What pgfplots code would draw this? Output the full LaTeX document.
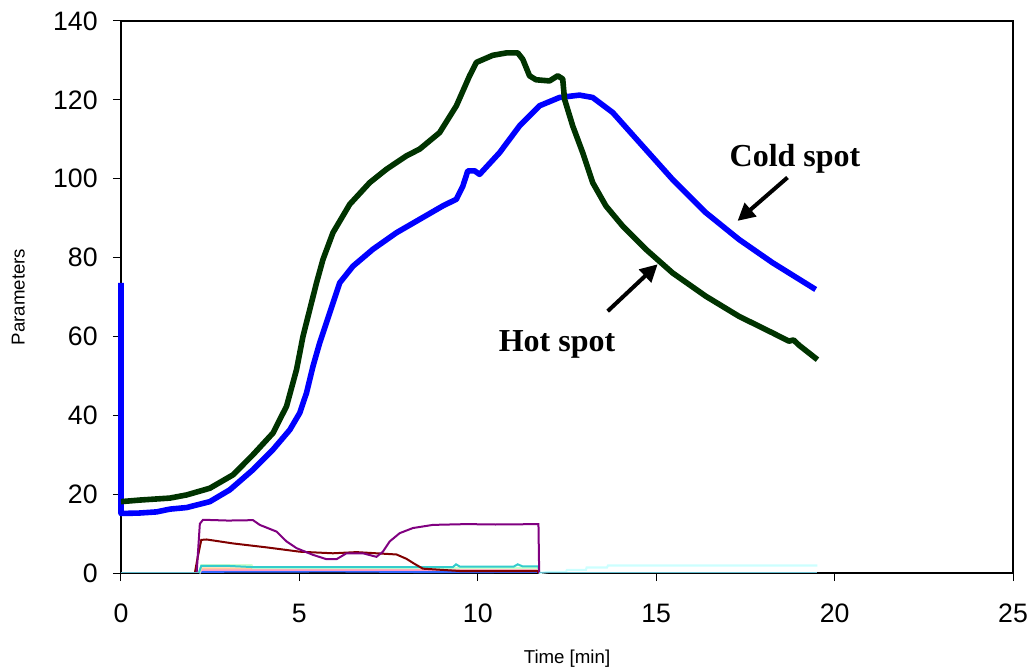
\documentclass[border=0pt]{standalone}
\usepackage{fontspec}
\setmainfont{Liberation Sans}
\newfontfamily\timesfont{Liberation Serif}
\usepackage{pgfplots}
\pgfplotsset{compat=1.18}
\usetikzlibrary{arrows.meta}
\definecolor{hotgreen}{RGB}{0,51,0}
\definecolor{coldblue}{RGB}{0,0,255}
\definecolor{xpurple}{RGB}{128,0,128}
\definecolor{xmaroon}{RGB}{128,0,0}
\definecolor{xturq}{RGB}{51,204,204}
\definecolor{xpeach}{RGB}{255,204,153}
\definecolor{xpink}{RGB}{255,153,204}
\definecolor{xlgreen}{RGB}{204,255,204}
\definecolor{xlcyan}{RGB}{204,255,255}
\definecolor{xroyal}{RGB}{51,102,255}
\definecolor{xbase}{RGB}{102,187,204}
\begin{document}
\begin{tikzpicture}
\begin{axis}[name=ax,
  scale only axis, width=669pt, height=414pt,
  xmin=0, xmax=25, ymin=0, ymax=140,
  xtick={0,5,10,15,20,25}, ytick={0,20,40,60,80,100,120,140},
  xtick pos=left, ytick pos=left, tick align=outside,
  major tick length=6pt,
  tick style={black, line width=0.75pt},
  axis line style={black, line width=0.9pt},
  /pgf/number format/assume math mode=true,
  ticklabel style={font=\fontsize{20}{20}\selectfont},
  xticklabel style={yshift=-14pt},
  yticklabel style={xshift=-8pt},
  xlabel={Time [min]}, ylabel={Parameters},
  label style={font=\fontsize{14}{14}\selectfont},
  xlabel style={at={(axis description cs:0.5,-0.1546)}, anchor=center},
  ylabel style={at={(axis description cs:-0.1151,0.5)}, anchor=center},
  clip=false,
]
% small parameter traces
\addplot[xlcyan, line width=1.6pt] coordinates {(11.72,0) (12.0,0.3) (12.47,0.3) (12.5,0.8) (13.03,0.8) (13.05,1.4) (13.62,1.4) (13.65,1.9) (19.52,1.9)};
\addplot[xroyal, line width=1.5pt] coordinates {(2.2,0) (2.25,0.3) (6.0,0.4) (9.0,0.2) (11.7,0.3) (11.72,0)};
\addplot[xpink, line width=1.5pt] coordinates {(2.2,0) (2.25,0.8) (11.7,0.8) (11.72,0)};
\addplot[xpeach, line width=1.5pt] coordinates {(2.2,0) (2.25,1.2) (11.7,1.2) (11.72,0)};
\addplot[xlgreen, line width=1.5pt] coordinates {(2.2,0) (2.25,2.0) (3.66,2.0) (3.7,1.3) (11.7,1.3) (11.72,0)};
\addplot[xturq, line width=1.5pt] coordinates {(2.18,0) (2.25,1.8) (3.0,1.8) (3.7,1.5) (9.3,1.5) (9.39,2.2) (9.5,1.6) (11.0,1.6) (11.12,2.2) (11.25,1.7) (11.7,1.7) (11.72,0.2)};
\addplot[xmaroon, line width=1.5pt] coordinates {(2.07,0) (2.15,4) (2.25,8.4) (2.40,8.5) (3.14,7.5) (4.08,6.5) (5.01,5.4) (5.94,5.0) (6.60,5.3) (7.34,4.9) (7.72,4.7) (8.0,3.6) (8.23,2.3) (8.46,1.1) (9.5,0.5) (11.68,0.5) (11.70,0)};
\addplot[xpurple, line width=1.5pt] coordinates {(2.12,0) (2.21,12.5) (2.3,13.5) (3.0,13.3) (3.70,13.4) (3.89,12.2) (4.36,10.5) (4.64,8.0) (4.92,6.3) (5.38,4.6) (5.76,3.5) (6.04,3.5) (6.32,5.0) (6.78,5.0) (7.16,4.1) (7.34,5.4) (7.53,8.0) (7.81,10.1) (8.18,11.4) (8.74,12.2) (9.68,12.4) (10.5,12.3) (11.70,12.4) (11.72,0)};
\addplot[xbase, line width=1.3pt] coordinates {(0,0.15) (2.2,0.15)};
\addplot[xbase, line width=1.3pt] coordinates {(11.72,0.15) (19.52,0.15)};
% cold spot
\addplot[coldblue, line width=4.2pt, line join=round] coordinates {(0,73.6) (0,15.1) (0.5,15.2) (1.0,15.5) (1.37,16.2) (1.84,16.6) (2.49,18.1) (3.05,21.1) (3.70,26.2) (4.26,31.3) (4.73,36.3) (5.01,40.6) (5.20,45.7) (5.38,52.4) (5.57,58.4) (5.85,66.0) (6.13,73.6) (6.50,77.8) (7.06,82.1) (7.72,86.3) (8.37,89.7) (9.02,93.1) (9.40,94.8) (9.58,98.1) (9.72,102.0) (9.91,102.0) (10.05,101.1) (10.61,106.6) (11.17,113.4) (11.73,118.5) (12.29,120.6) (12.85,121.2) (13.22,120.6) (13.78,116.8) (14.53,109.2) (15.46,99.8) (16.39,91.4) (17.32,84.6) (18.26,78.7) (19.47,71.9)};
% hot spot
\addplot[hotgreen, line width=4.2pt, line join=round] coordinates {(0,18.1) (0.53,18.5) (1.37,19.0) (1.84,19.8) (2.49,21.5) (3.14,24.9) (3.70,30.0) (4.26,35.5) (4.64,42.3) (4.92,51.6) (5.10,60.0) (5.29,66.8) (5.48,73.6) (5.66,79.5) (5.94,86.3) (6.41,93.5) (6.97,99.0) (7.44,102.4) (8.0,105.8) (8.37,107.5) (8.93,111.7) (9.40,118.5) (9.77,126.1) (9.96,129.5) (10.42,131.3) (10.80,131.9) (11.12,131.9) (11.26,130.3) (11.45,126.1) (11.63,125.1) (12.01,124.8) (12.24,126.1) (12.38,125.3) (12.43,120.2) (12.66,113.4) (12.94,106.6) (13.22,99.0) (13.59,93.1) (14.06,88.0) (14.71,82.1) (15.46,76.1) (16.39,70.2) (17.32,65.1) (18.26,60.9) (18.72,58.8) (18.85,59.1) (19.0,57.8) (19.52,54.1)};
% annotations
\node[font=\timesfont\bfseries\fontsize{24}{24}\selectfont, anchor=base] at (axis cs:18.89,103.2) {Cold spot};
\node[font=\timesfont\bfseries\fontsize{24}{24}\selectfont, anchor=base] at (axis cs:12.22,56.2) {Hot spot};
\draw[-{Triangle[length=13pt,width=13pt]}, line width=3pt] (axis cs:18.68,100.3) -- (axis cs:17.28,89.3);
\draw[-{Triangle[length=13pt,width=13pt]}, line width=3pt] (axis cs:13.64,66.4) -- (axis cs:15.04,78.3);
\end{axis}
\path ([xshift=-90.75pt,yshift=-71.25pt]ax.south west) rectangle ([xshift=684.75pt,yshift=429.75pt]ax.south west);
\end{tikzpicture}
\end{document}
